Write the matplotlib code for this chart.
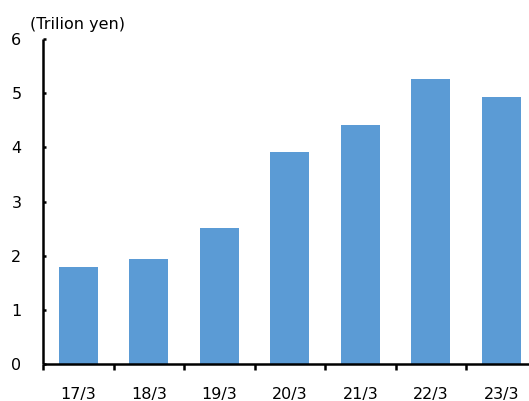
import matplotlib
matplotlib.use("Agg")
import matplotlib.pyplot as plt
import numpy as np

categories = ["17/3", "18/3", "19/3", "20/3", "21/3", "22/3", "23/3"]
values = [1.79, 1.93, 2.52, 3.91, 4.41, 5.27, 4.93]
yticks = [0, 1, 2, 3, 4, 5, 6]
unit_label = "(Trilion yen)"

W, H = 529, 401
fig = plt.figure(figsize=(W / 100, H / 100), dpi=100)
ax = fig.add_axes([43 / W, 37 / H, 493.5 / W, 325 / H])

x = np.arange(len(categories))
ax.bar(x, values, width=0.55, color="#5B9BD5", zorder=2)

ax.set_xlim(-0.5, len(categories) - 0.5)
ax.set_ylim(0, 6)

for s in ("top", "right"):
    ax.spines[s].set_visible(False)
for s in ("left", "bottom"):
    ax.spines[s].set_linewidth(1.8)
    ax.spines[s].set_color("black")
    ax.spines[s].set_capstyle("butt")

ax.set_yticks(yticks)
ax.set_yticklabels([str(v) for v in yticks])
ax.tick_params(axis="y", direction="in", length=2.5, width=1.8, pad=15.5,
               labelsize=11.5, colors="black")

# category boundaries carry the tick marks, centres carry the labels
ax.set_xticks(np.arange(-0.5, len(categories), 1.0))
ax.set_xticklabels([])
ax.set_xticks(x, minor=True)
ax.set_xticklabels(categories, minor=True)
ax.tick_params(axis="x", which="major", direction="out", length=4, width=1.8)
ax.tick_params(axis="x", which="minor", length=0, pad=16.5, labelsize=11.5,
               colors="black")

fig.text(30 / W, 1 - 24 / H, unit_label, fontsize=11.5, ha="left", va="center")

fig.savefig("out.png", dpi=100)
